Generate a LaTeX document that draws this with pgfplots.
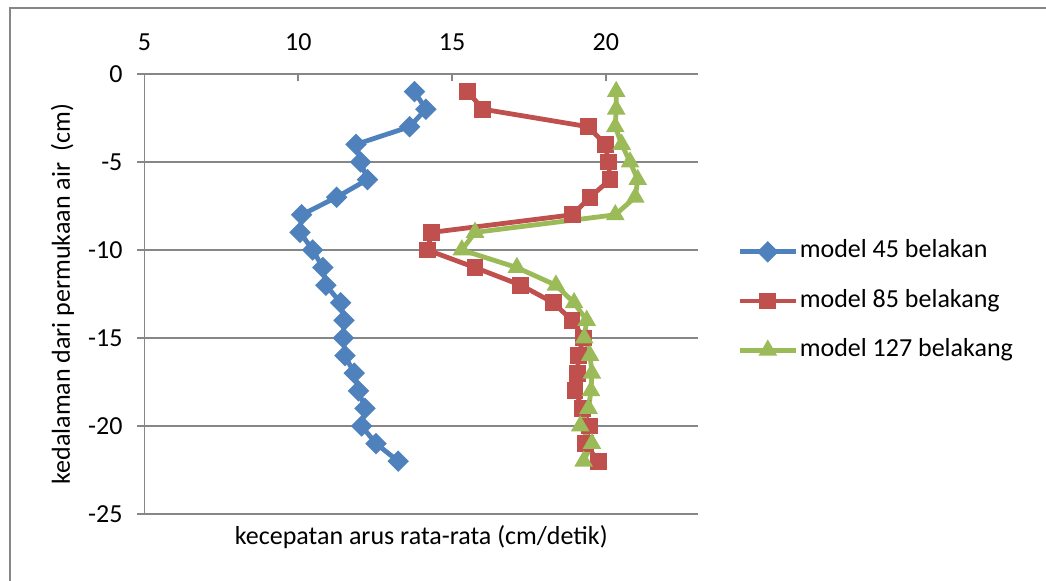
\documentclass[border=0pt]{standalone}
\usepackage{pgfplots}
\pgfplotsset{compat=1.18}
\usepackage{pgfplotstable}
\usepackage{fontspec}
\setmainfont{Carlito}
\definecolor{sblue}{HTML}{4F81BD}
\definecolor{sred}{HTML}{C0504D}
\definecolor{sgreen}{HTML}{9BBB59}
\definecolor{axgray}{HTML}{868686}

\pgfplotstableread{
x y
13.78 -1
14.15 -2
13.62 -3
11.88 -4
12.03 -5
12.25 -6
11.25 -7
10.11 -8
10.06 -9
10.47 -10
10.80 -11
10.90 -12
11.38 -13
11.49 -14
11.47 -15
11.52 -16
11.82 -17
11.96 -18
12.17 -19
12.06 -20
12.53 -21
13.25 -22
}\blue

\pgfplotstableread{
x y
15.51 -1
16.00 -2
19.44 -3
19.98 -4
20.09 -5
20.14 -6
19.49 -7
18.92 -8
14.34 -9
14.20 -10
15.75 -11
17.24 -12
18.30 -13
18.90 -14
19.28 -15
19.11 -16
19.08 -17
19.00 -18
19.25 -19
19.47 -20
19.33 -21
19.76 -22
}\red

\pgfplotstableread{
x y
20.34 -1
20.34 -2
20.31 -3
20.52 -4
20.79 -5
21.04 -6
20.96 -7
20.31 -8
15.75 -9
15.32 -10
17.11 -11
18.38 -12
18.97 -13
19.38 -14
19.30 -15
19.49 -16
19.55 -17
19.52 -18
19.44 -19
19.17 -20
19.55 -21
19.28 -22
}\green

\begin{document}
\begin{tikzpicture}
\useasboundingbox (0,0) rectangle (523pt,290.5pt);
\draw[axgray, line width=0.8pt] (5pt,0pt) -- (5pt,286.5pt) -- (523pt,286.5pt);
\begin{axis}[
  at={(72.25pt,33.5pt)}, anchor=south west,
  scale only axis, width=276.75pt, height=220pt,
  xmin=5, xmax=23, ymin=-25, ymax=0,
  axis x line*=top, axis y line*=left,
  axis line style={axgray, line width=0.8pt},
  xtick={5,10,15,20}, xticklabels={5,10,15,20},
  ytick={-25,-20,-15,-10,-5,0}, yticklabels={-25,-20,-15,-10,-5,0},
  ymajorgrids, grid style={axgray, line width=0.8pt},
  tick align=outside, major tick length=3.5pt,
  tick style={axgray, line width=0.8pt},
  xtick style={yshift=-3.5pt},
  every tick label/.append style={font=\fontsize{13}{15}\selectfont, text=black},
  xticklabel style={yshift=4.5pt},
  yticklabel style={xshift=-4pt},
  every axis x label/.style={at={(axis description cs:0.5,0)}, anchor=center, yshift=-11.5pt},
  every axis y label/.style={at={(axis description cs:0,0.5)}, anchor=center, xshift=-41pt, rotate=90},
  label style={font=\fontsize{13}{15}\selectfont},
  xlabel={kecepatan arus rata-rata (cm/detik)},
  ylabel={kedalaman dari permukaan air\ \ (cm)},
  clip=false,
  legend style={draw=none, fill=none, at={(axis description cs:1.0705,0.484)}, anchor=west,
    inner sep=0pt, row sep=11pt, font=\fontsize{13}{15}\selectfont,
    nodes={inner sep=0.8pt, text height=9pt, text depth=3pt}},
  legend cell align=left,
  legend image code/.code={\draw[mark repeat=2,mark phase=2,#1] plot coordinates {(0pt,0pt) (14pt,0pt) (28pt,0pt)};},
]
\addplot[sblue, line width=2.4pt, mark=square*, mark size=2.6pt, mark options={rotate=45, solid, fill=sblue}] table[x=x,y=y] {\blue};
\addlegendentry{model 45 belakan}
\addplot[sred, line width=2.4pt, mark=square*, mark size=3pt, mark options={solid, fill=sred}] table[x=x,y=y] {\red};
\addlegendentry{model 85 belakang}
\addplot[sgreen, line width=2.4pt, mark=triangle*, mark size=3pt, mark options={solid, fill=sgreen}] table[x=x,y=y] {\green};
\addlegendentry{model 127 belakang}
\end{axis}
\end{tikzpicture}
\end{document}
